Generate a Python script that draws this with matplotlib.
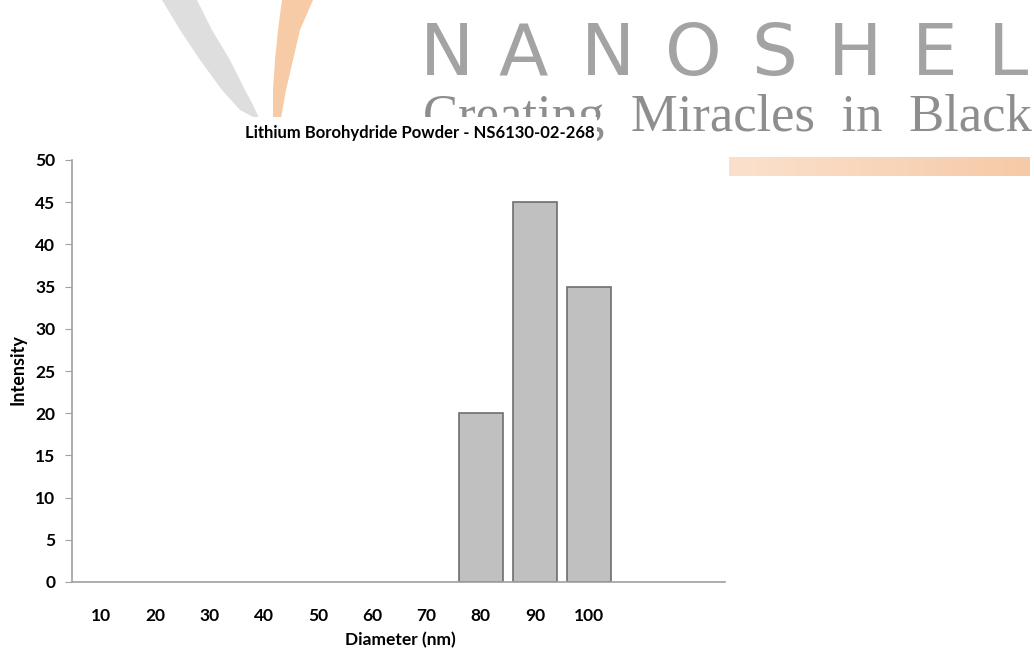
import matplotlib.pyplot as plt
import numpy as np
from matplotlib.patches import Polygon, Rectangle
from matplotlib.colors import LinearSegmentedColormap

diametros = ['10', '20', '30', '40', '50', '60', '70', '80', '90', '100']
intensidade = [0, 0, 0, 0, 0, 0, 0, 20, 45, 35]
yticks = [0, 5, 10, 15, 20, 25, 30, 35, 40, 45, 50]

W, H = 1034, 651
fig = plt.figure(figsize=(W / 100, H / 100), dpi=100)

# marca d'agua NANOSHEL (coordenadas em pixels, origem no topo)
def px(x, y):
    return (x / W, 1 - y / H)

cinza = [(162, 0), (197, 0), (212, 30), (230, 60), (245, 90), (253, 105), (259, 118),
         (255, 118), (240, 110), (222, 90), (200, 60), (180, 30)]
laranja = [(282, 0), (313, 0), (300, 30), (293, 60), (286, 90), (281, 118),
           (273, 118), (273, 90), (275, 60), (278, 30)]
fig.patches.append(Polygon([px(*p) for p in cinza], closed=True, transform=fig.transFigure,
                           facecolor='#dedede', edgecolor='none', zorder=0))
fig.patches.append(Polygon([px(*p) for p in laranja], closed=True, transform=fig.transFigure,
                           facecolor='#f7cba6', edgecolor='none', zorder=0))

letras = 'NANOSHEL'
centros = [447, 523, 608, 693, 774, 855, 935, 1008]
for l, cx in zip(letras, centros):
    fig.text(cx / W, 1 - 75 / H, l, ha='center', va='baseline', fontsize=52,
             color='#a3a3a3', family='DejaVu Sans', zorder=0.5)
fig.text(423 / W, 1 - 131 / H, 'Creating  Miracles  in  Black', ha='left', va='baseline',
         fontsize=38, color='#8e8e8e', family='Liberation Serif', zorder=0.5)

# barra laranja em degrade
ax_g = fig.add_axes([729 / W, 1 - 176 / H, 301 / W, 19 / H])
grad = np.linspace(0, 1, 200).reshape(1, -1)
cm = LinearSegmentedColormap.from_list('g', ['#fbe1cd', '#f6caa7'])
ax_g.imshow(grad, aspect='auto', cmap=cm)
ax_g.axis('off')

# fundo branco do grafico cobrindo a marca d'agua
fig.patches.append(Rectangle((0, 0), 597 / W, 1 - 117 / H, transform=fig.transFigure,
                             facecolor='white', edgecolor='none', zorder=1))

ax = fig.add_axes([72 / W, 1 - 582 / H, (725 - 72) / W, (582 - 160) / H])
ax.set_zorder(2)
ax.patch.set_alpha(0)
x = np.arange(len(diametros))
larg = [1.2 if v > 0 else 0 for v in intensidade]
ax.bar(x, intensidade, width=0.81, color='#c0c0c0', edgecolor='#6e6e6e', linewidth=larg)
ax.set_xlim(-0.53, 11.5)
ax.set_ylim(0, 50)
ax.set_yticks(yticks)
ax.set_xticks(x)
ax.set_xticklabels(diametros)
ax.tick_params(axis='x', length=0, pad=19)
ax.tick_params(axis='y', length=5, color='#a0a0a0', pad=7)
for lab in ax.get_xticklabels() + ax.get_yticklabels():
    lab.set_fontweight('bold')
    lab.set_fontsize(12.5)
    lab.set_family('Lato')
for s in ['top', 'right']:
    ax.spines[s].set_visible(False)
for s in ['left', 'bottom']:
    ax.spines[s].set_color('#a0a0a0')
    ax.spines[s].set_linewidth(1.2)
    ax.spines[s].set_zorder(5)

fig.text(420 / W, 1 - 133 / H, 'Lithium Borohydride Powder - NS6130-02-268', ha='center', va='center',
         fontsize=12, fontweight='bold', family='Lato', zorder=3)
fig.text(18 / W, 1 - 370 / H, 'Intensity', rotation=90, ha='center', va='center',
         fontsize=13, fontweight='bold', family='Lato', zorder=3)
fig.text(400 / W, 1 - 640 / H, 'Diameter (nm)', ha='center', va='center',
         fontsize=12.5, fontweight='bold', family='Lato', zorder=3)

plt.savefig('out.png', dpi=100)
